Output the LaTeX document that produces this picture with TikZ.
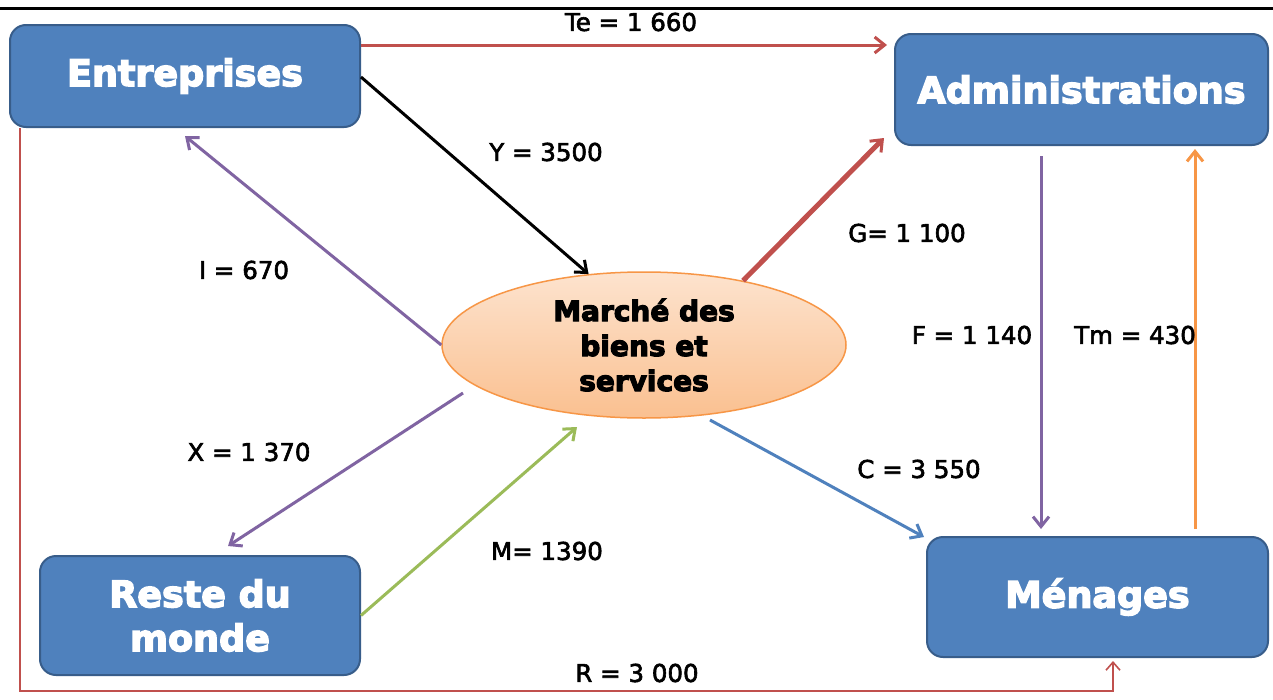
\documentclass[tikz,border=0pt]{standalone}
\usepackage{fontspec}
\setmainfont{DejaVu Sans}
\newfontfamily\labfont[FakeBold=2.5]{DejaVu Sans}
\newfontfamily\heavyfont[FakeBold=4]{DejaVu Sans Bold}
\usetikzlibrary{arrows.meta,shapes.geometric}
\definecolor{boxblue}{HTML}{4F81BD}
\definecolor{boxborder}{HTML}{385D8A}
\definecolor{orgborder}{HTML}{F79646}
\definecolor{orgtop}{HTML}{FDE3CE}
\definecolor{orgbot}{HTML}{FAC090}
\definecolor{fred}{HTML}{C0504D}
\definecolor{fpurple}{HTML}{8064A2}
\definecolor{fgreen}{HTML}{9BBB59}
\definecolor{fblue}{HTML}{4F81BD}
\definecolor{forange}{HTML}{F79646}
\begin{document}
\begin{tikzpicture}[x=1pt,y=-1pt,
  blk/.style={draw=boxborder, line width=2pt, fill=boxblue, rounded corners=16pt,
    inner sep=0pt, text=white, align=center,
    font=\heavyfont\fontsize{36.5}{44}\selectfont},
  mkt/.style={ellipse, draw=orgborder, line width=1.5pt, top color=orgtop, bottom color=orgbot,
    minimum width=404pt, minimum height=146pt, inner sep=0pt, align=center,
    font=\heavyfont\fontsize{28}{35}\selectfont},
  flow/.style={line width=3pt, -{Straight Barb[length=10pt,width=16pt,line width=3pt]}},
  thin/.style={line width=1.6pt, -{Straight Barb[length=8pt,width=14pt,line width=1.6pt]}},
  lab/.style={font=\labfont\fontsize{24.5}{28}\selectfont, text=black, inner sep=0pt}
]
\useasboundingbox (0,0) rectangle (1273,699);
\fill[white] (0,0) rectangle (1273,699);
\draw[line width=3pt] (0,8) -- (1273,8);

\node[blk, minimum width=350pt, minimum height=102pt] (ent) at (185,76) {Entreprises};
\node[blk, minimum width=373pt, minimum height=111pt] (adm) at (1081.5,89.5) {Administrations};
\node[blk, minimum width=320pt, minimum height=119pt] (rdm) at (200,615.5) {Reste du\\monde};
\node[blk, minimum width=341pt, minimum height=120pt] (men) at (1097.5,597) {Ménages};
\node[mkt] (mar) at (644,345) {Marché des\\biens et\\services};

% flows
\draw[flow, fred] ([shift={(0,-31)}]ent.east) -- ([shift={(-7,-44.5)}]adm.west);
\draw[flow, black] ([shift={(0,1)}]ent.east) -- (mar.128);
\draw[flow, fred, line width=5pt] (mar.33.6) -- ([shift={(-10,-8)}]adm.south west);
\draw[flow, fpurple] (mar.west) -- ([shift={(0,8)}]ent.south);
\draw[flow, fpurple] ([shift={(-181,48)}]mar.center) -- ([shift={(28,-9)}]rdm.north);
\draw[flow, fgreen] (rdm.east) -- ([shift={(-67,82)}]mar.center);
\draw[flow, fblue] ([shift={(66,75)}]mar.center) -- ([shift={(-2,1)}]men.north west);
\draw[flow, fpurple] ([shift={(-40.5,10)}]adm.south) -- ([shift={(-56.5,-7)}]men.north);
\draw[flow, forange] ([shift={(97.5,-7)}]men.north) -- ([shift={(113.5,3)}]adm.south);
\coordinate (rc) at (20,691);
\draw[thin, fred] ([shift={(-165,0)}]ent.south) -- (rc) -| ([shift={(15.5,3)}]men.south);

% labels
\node[lab] (lte) at (631,22) {Te = 1 660};
\node[lab] (ly) at (546,152) {Y = 3500};
\node[lab] (lg) at (907,233) {G= 1 100};
\node[lab] (li) at (244,270) {I = 670};
\node[lab] (lx) at (249,452) {X = 1 370};
\node[lab] (lm) at (547,551) {M= 1390};
\node[lab] (lc) at (919,469) {C = 3 550};
\node[lab] (lf) at (972,335) {F = 1 140};
\node[lab] (ltm) at (1135,335) {Tm = 430};
\node[lab] (lr) at (637,673) {R = 3 000};
\end{tikzpicture}
\end{document}
